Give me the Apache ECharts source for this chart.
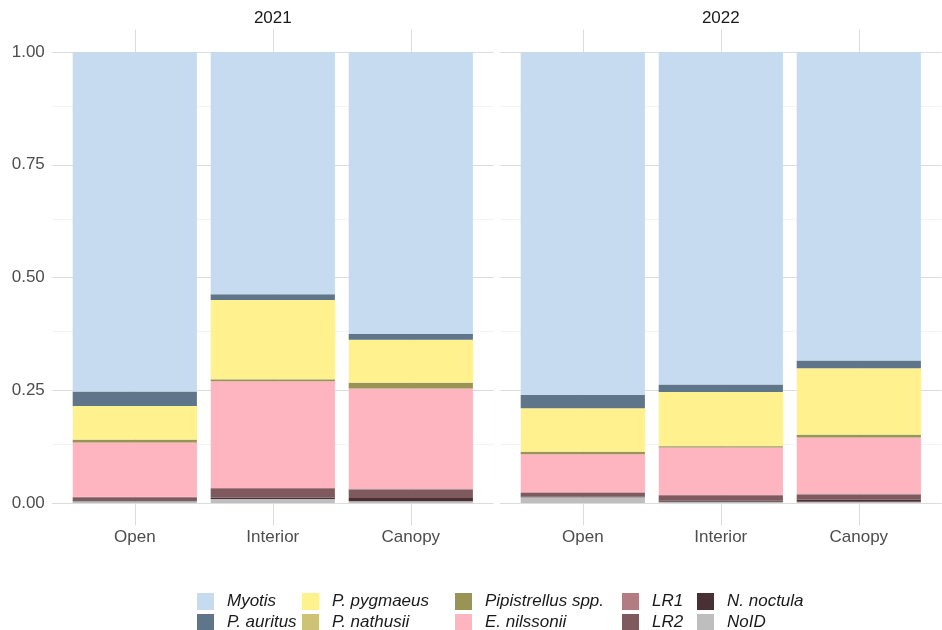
<!DOCTYPE html>
<html>
<head>
<meta charset="utf-8">
<script src="https://cdn.jsdelivr.net/npm/echarts@6/dist/echarts.min.js"></script>
<style>
  html, body { margin: 0; padding: 0; background: #fff; }
  #chart { width: 942px; height: 630px; }
</style>
</head>
<body>
<div id="chart"></div>
<script>
// facets and x categories
const years = ['2021', '2022']
const sites = ['Open', 'Interior', 'Canopy']
const yTicks = [0, 0.25, 0.5, 0.75, 1]
const yMinor = [0.125, 0.375, 0.625, 0.875]

// species in legend order (top of stack first)
const species = ['Myotis', 'P. auritus', 'P. pygmaeus', 'P. nathusii', 'Pipistrellus spp.',
  'E. nilssonii', 'LR1', 'LR2', 'N. noctula', 'NoID']
const colors = ['#c6dbef', '#5f758a', '#fff28e', '#cdc276', '#9a9454',
  '#ffb5c0', '#b37c83', '#7e5a5f', '#4a3034', '#bebebe']

// proportions per species, [Open, Interior, Canopy]
const share2021 = [
  [0.753, 0.537, 0.625],
  [0.032, 0.013, 0.013],
  [0.074, 0.175, 0.095],
  [0.001, 0.001, 0.001],
  [0.006, 0.004, 0.012],
  [0.120, 0.237, 0.222],
  [0.001, 0.002, 0.002],
  [0.007, 0.019, 0.019],
  [0.002, 0.003, 0.007],
  [0.004, 0.009, 0.004]
]
const share2022 = [
  [0.760, 0.737, 0.684],
  [0.030, 0.017, 0.017],
  [0.096, 0.119, 0.147],
  [0.001, 0.001, 0.001],
  [0.005, 0.003, 0.006],
  [0.084, 0.105, 0.124],
  [0.002, 0.001, 0.002],
  [0.0075, 0.012, 0.012],
  [0.0015, 0.002, 0.004],
  [0.013, 0.003, 0.003]
]
const shares = [share2021, share2022]

const FONT = "'Liberation Sans', Arial, sans-serif"
const panelLeft = [52, 500]
const panelW = 441.6
const band = panelW / 3.2

const chart = echarts.init(document.getElementById('chart'), null, { renderer: 'canvas' })

const grids = []
const xAxes = []
const yAxes = []
const series = []

years.forEach((yr, p) => {
  // bar grid (0..1), categories sit at 1..3 on a 0.4..3.6 panel
  grids.push({ left: panelLeft[p] + band * 0.1, width: band * 3, top: 52, height: 451 })
  xAxes.push({
    type: 'category', gridIndex: p * 2, data: sites,
    axisLine: { show: false }, axisTick: { show: false }, splitLine: { show: false },
    axisLabel: { margin: 26, fontSize: 17, color: '#4d4d4d', fontFamily: FONT }
  })
  yAxes.push({
    type: 'value', gridIndex: p * 2, min: 0, max: 1, interval: 0.25,
    axisLine: { show: false }, axisTick: { show: false }, splitLine: { show: false },
    axisLabel: {
      show: p === 0, margin: 21, fontSize: 17, color: '#4d4d4d', fontFamily: FONT,
      formatter: v => v.toFixed(2)
    }
  })
  // full panel grid for gridlines
  grids.push({ left: panelLeft[p], width: panelW, top: 29.5, height: 496 })
  xAxes.push({ type: 'value', gridIndex: p * 2 + 1, min: 0.4, max: 3.6, show: false })
  yAxes.push({ type: 'value', gridIndex: p * 2 + 1, min: -0.05, max: 1.05, show: false })

  const major = { color: '#dcdcdc', width: 1, type: 'solid' }
  const minor = { color: '#ededed', width: 0.6, type: 'solid' }
  series.push({
    type: 'line', xAxisIndex: p * 2 + 1, yAxisIndex: p * 2 + 1,
    data: [[1, 0.5]], symbol: 'none', silent: true, z: 0,
    markLine: {
      silent: true, z: 1, symbol: ['none', 'none'], label: { show: false },
      animation: false,
      data: [
        ...yMinor.map(v => ({ yAxis: v, lineStyle: minor })),
        ...yTicks.map(v => ({ yAxis: v, lineStyle: major })),
        ...sites.map((s, i) => ({ xAxis: i + 1, lineStyle: major }))
      ]
    }
  })

  // stacked bars, bottom species first
  for (let k = species.length - 1; k >= 0; k--) {
    series.push({
      name: species[k], type: 'bar', stack: 'y' + yr,
      xAxisIndex: p * 2, yAxisIndex: p * 2, barWidth: '90%', z: 2,
      itemStyle: { color: colors[k] },
      data: shares[p][k]
    })
  }
})

const legendCols = [197, 302, 455, 622, 697]
const legends = legendCols.map((x, c) => ({
  orient: 'vertical', left: x, top: 593, height: 40, padding: 0,
  data: species.slice(c * 2, c * 2 + 2),
  icon: 'rect', itemWidth: 17, itemHeight: 17, itemGap: 4,
  selectedMode: false,
  textStyle: { fontSize: 17, fontStyle: 'italic', color: '#1a1a1a', fontFamily: FONT, padding: [0, 0, 0, 8] }
}))

const option = {
  animation: false,
  color: colors,
  grid: grids,
  xAxis: xAxes,
  yAxis: yAxes,
  legend: legends,
  graphic: years.map((yr, p) => ({
    type: 'text', x: panelLeft[p] + panelW / 2, y: 18,
    style: { text: yr, align: 'center', verticalAlign: 'middle', font: '17px ' + FONT, fill: '#1a1a1a' }
  })),
  series: series
}

chart.setOption(option)
</script>
</body>
</html>
